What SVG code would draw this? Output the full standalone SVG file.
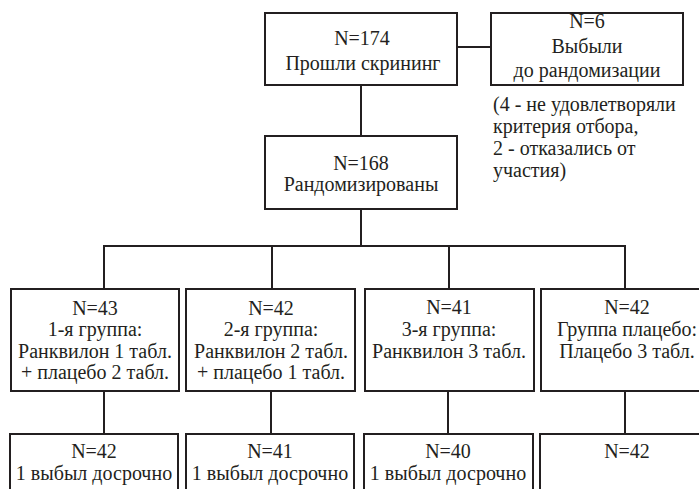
<svg xmlns="http://www.w3.org/2000/svg" width="699" height="489" viewBox="0 0 699 489">
<style>
.b{fill:#fff;stroke:#231f20;stroke-width:2}
.l{fill:none;stroke:#231f20;stroke-width:2}
</style>
<rect width="699" height="489" fill="#fff"/>
<g id="connectors">
<line class="l" x1="457" y1="47" x2="491" y2="47"/>
<line class="l" x1="361" y1="85" x2="361" y2="136"/>
<line class="l" x1="361" y1="209" x2="361" y2="246"/>
<line class="l" x1="103" y1="246" x2="626" y2="246"/>
<line class="l" x1="104" y1="246" x2="104" y2="289"/>
<line class="l" x1="272" y1="246" x2="272" y2="289"/>
<line class="l" x1="449" y1="246" x2="449" y2="289"/>
<line class="l" x1="625" y1="246" x2="625" y2="289"/>
<line class="l" x1="104" y1="391" x2="104" y2="434"/>
<line class="l" x1="271" y1="391" x2="271" y2="434"/>
<line class="l" x1="448" y1="391" x2="448" y2="434"/>
<line class="l" x1="625" y1="391" x2="625" y2="434"/>
</g>
<g text-anchor="middle" fill="#231f20">
<g id="screening">
<rect class="b" x="265" y="13" width="192" height="72"/>
<text style="font-family:'Liberation Serif'" font-size="20" x="362" y="45">N=174</text>
<text style="font-family:'Liberation Serif'" font-size="20" x="363" y="70">Прошли скрининг</text>
</g>
<g id="dropout">
<rect class="b" x="491" y="13" width="192" height="72"/>
<text style="font-family:'Liberation Serif'" font-size="20" x="587" y="28">N=6</text>
<text style="font-family:'Liberation Serif'" font-size="20" x="587" y="53">Выбыли</text>
<text style="font-family:'Liberation Serif'" font-size="20" x="587" y="77">до рандомизации</text>
</g>
<g id="note" text-anchor="start">
<text style="font-family:'Liberation Serif'" font-size="20" x="493" y="111">(4 - не удовлетворяли</text>
<text style="font-family:'Liberation Serif'" font-size="20" x="493" y="133">критерия отбора,</text>
<text style="font-family:'Liberation Serif'" font-size="20" x="493" y="155">2 - отказались от</text>
<text style="font-family:'Liberation Serif'" font-size="20" x="493" y="177">участия)</text>
</g>
<g id="randomized">
<rect class="b" x="265" y="136" width="192" height="73"/>
<text style="font-family:'Liberation Serif'" font-size="20" x="361" y="170">N=168</text>
<text style="font-family:'Liberation Serif'" font-size="20" x="361" y="191">Рандомизированы</text>
</g>
<g id="group1">
<rect class="b" x="11" y="289" width="168" height="102"/>
<text style="font-family:'Liberation Serif'" font-size="20" x="95" y="315">N=43</text>
<text style="font-family:'Liberation Serif'" font-size="20" x="95" y="336">1-я группа:</text>
<text style="font-family:'Liberation Serif'" font-size="20" x="95" y="358">Ранквилон 1 табл.</text>
<text style="font-family:'Liberation Serif'" font-size="20" x="95" y="379">+ плацебо 2 табл.</text>
</g>
<g id="group2">
<rect class="b" x="186" y="289" width="169" height="102"/>
<text style="font-family:'Liberation Serif'" font-size="20" x="271" y="315">N=42</text>
<text style="font-family:'Liberation Serif'" font-size="20" x="271" y="336">2-я группа:</text>
<text style="font-family:'Liberation Serif'" font-size="20" x="271" y="358">Ранквилон 2 табл.</text>
<text style="font-family:'Liberation Serif'" font-size="20" x="271" y="379">+ плацебо 1 табл.</text>
</g>
<g id="group3">
<rect class="b" x="365" y="289" width="169" height="102"/>
<text style="font-family:'Liberation Serif'" font-size="20" x="449" y="314">N=41</text>
<text style="font-family:'Liberation Serif'" font-size="20" x="449" y="336">3-я группа:</text>
<text style="font-family:'Liberation Serif'" font-size="20" x="449" y="358">Ранквилон 3 табл.</text>
</g>
<g id="group4">
<rect class="b" x="541" y="289" width="170" height="102"/>
<text style="font-family:'Liberation Serif'" font-size="20" x="627" y="314">N=42</text>
<text style="font-family:'Liberation Serif'" font-size="20" x="627" y="336">Группа плацебо:</text>
<text style="font-family:'Liberation Serif'" font-size="20" x="627" y="358">Плацебо 3 табл.</text>
</g>
<g id="result1">
<rect class="b" x="10" y="434" width="168" height="70"/>
<text style="font-family:'Liberation Serif'" font-size="20" x="94" y="458">N=42</text>
<text style="font-family:'Liberation Serif'" font-size="20" x="94" y="480">1 выбыл досрочно</text>
</g>
<g id="result2">
<rect class="b" x="186" y="434" width="168" height="70"/>
<text style="font-family:'Liberation Serif'" font-size="20" x="270" y="458">N=41</text>
<text style="font-family:'Liberation Serif'" font-size="20" x="270" y="480">1 выбыл досрочно</text>
</g>
<g id="result3">
<rect class="b" x="364" y="434" width="169" height="70"/>
<text style="font-family:'Liberation Serif'" font-size="20" x="448" y="458">N=40</text>
<text style="font-family:'Liberation Serif'" font-size="20" x="448" y="480">1 выбыл досрочно</text>
</g>
<g id="result4">
<rect class="b" x="540" y="434" width="170" height="70"/>
<text style="font-family:'Liberation Serif'" font-size="20" x="627" y="458">N=42</text>
</g>
</g>
</svg>
